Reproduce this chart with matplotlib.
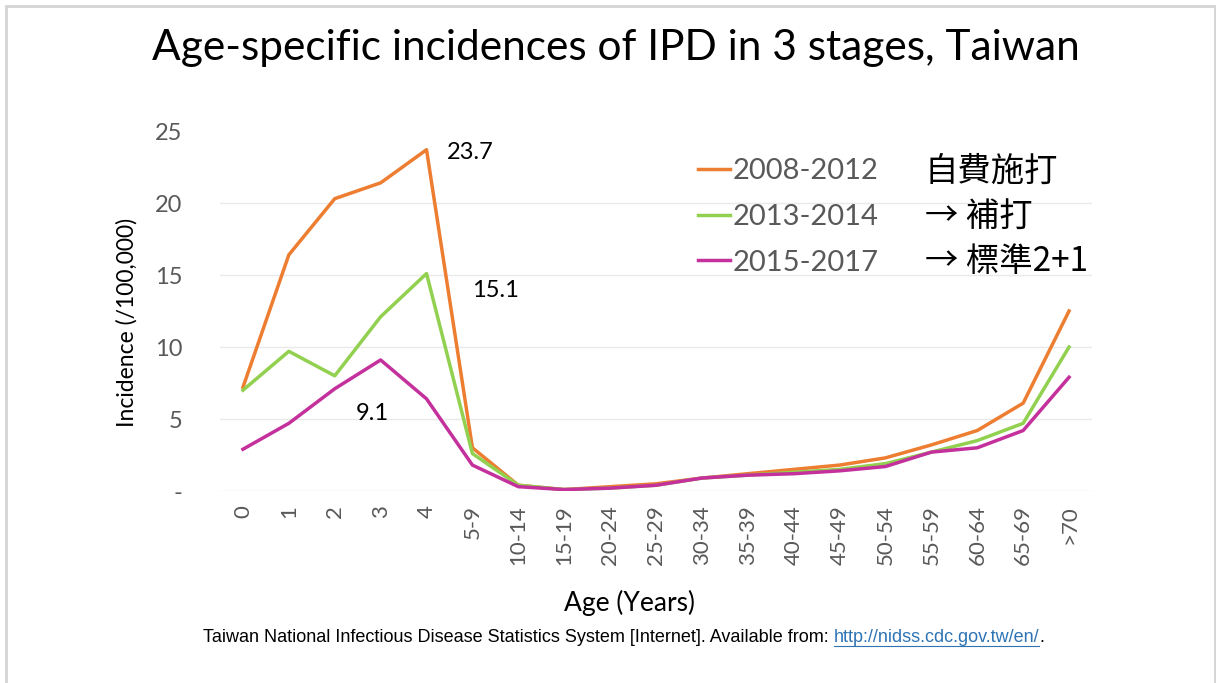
import matplotlib
matplotlib.use("Agg")
from matplotlib import pyplot as plt
from matplotlib.patches import Rectangle
import numpy as np

age_groups = ["0", "1", "2", "3", "4", "5-9", "10-14", "15-19", "20-24", "25-29",
              "30-34", "35-39", "40-44", "45-49", "50-54", "55-59", "60-64",
              "65-69", ">70"]

inc_2008_2012 = [7.2, 16.4, 20.3, 21.4, 23.7, 3.0, 0.4, 0.1, 0.3, 0.5,
                 0.9, 1.2, 1.5, 1.8, 2.3, 3.2, 4.2, 6.1, 12.5]
inc_2013_2014 = [7.0, 9.7, 8.0, 12.1, 15.1, 2.6, 0.4, 0.1, 0.2, 0.4,
                 0.9, 1.1, 1.3, 1.5, 1.9, 2.7, 3.5, 4.7, 10.0]
inc_2015_2017 = [2.9, 4.7, 7.1, 9.1, 6.4, 1.8, 0.3, 0.1, 0.2, 0.4,
                 0.9, 1.1, 1.2, 1.4, 1.7, 2.7, 3.0, 4.2, 7.9]

series_names = ["2008-2012", "2013-2014", "2015-2017"]
series_notes = ["自費施打", "→ 補打", "→ 標準2+1"]
series_colors = ["#ED7D31", "#92D050", "#C4309C"]

# peak labels: (x position, y position, text)
peak_labels = [(4.45, 23.5, "23.7"), (5.0, 13.9, "15.1"), (2.45, 5.4, "9.1")]

plt.rcParams["font.family"] = ["Lato", "DejaVu Sans"]
cjk = ["Noto Sans CJK TC", "DejaVu Sans"]
gray = "#595959"

fig = plt.figure(figsize=(12.16, 6.83), dpi=100)
W, H = 1216, 683

def px(x0, y0, x1, y1):
    return [x0 / W, 1 - y1 / H, (x1 - x0) / W, (y1 - y0) / H]

ax = fig.add_axes(px(220, 131, 1092, 491))

x = np.arange(len(age_groups))
for vals, name, col in zip([inc_2008_2012, inc_2013_2014, inc_2015_2017],
                           series_names, series_colors):
    ax.plot(x, vals, color=col, linewidth=2.5, label=name, solid_joinstyle="round")

ax.set_xlim(-0.5, len(age_groups) - 0.5)
ax.set_ylim(0, 25)
ax.set_yticks([0, 5, 10, 15, 20, 25])
ax.set_yticklabels(["-", "5", "10", "15", "20", "25"])
ax.set_xticks(x)
ax.set_xticklabels(age_groups, rotation=90)
ax.tick_params(axis="both", length=0, colors=gray)
ax.tick_params(axis="y", pad=27, labelsize=17)
ax.tick_params(axis="x", pad=10, labelsize=16)
for s in ax.spines.values():
    s.set_visible(False)
ax.grid(axis="y", color="#E9E9E9", linewidth=1)
ax.yaxis.get_gridlines()[-1].set_visible(False)
ax.set_axisbelow(True)

for xi, yi, t in peak_labels:
    ax.text(xi, yi, t, fontsize=17, color="black", ha="left", va="center")

ax.set_ylabel("Incidence (/100,000)", fontsize=16.5, color="black", va="center")
ax.yaxis.set_label_coords(-0.107, 0.467)
ax.set_xlabel("Age (Years)", fontsize=19, color="black", va="center")
ax.xaxis.set_label_coords(0.47, -0.31)

leg = ax.legend(loc="upper left", bbox_to_anchor=((698 - 220) / 872, (491 - 158) / 360),
                frameon=False, fontsize=21, handlelength=1.1, handletextpad=0.1,
                labelspacing=0.68, borderaxespad=0, borderpad=0)
for t in leg.get_texts():
    t.set_color(gray)
for i, note in enumerate(series_notes):
    fig.text(925 / W, 1 - (171 + 45 * i) / H, note, fontsize=24, family=cjk,
             color="black", ha="left", va="center")

fig.text(616 / W, 1 - 48 / H, "Age-specific incidences of IPD in 3 stages, Taiwan",
         fontsize=30.5, ha="center", va="center", color="black")

# footer with link
foot_size = 13
foot = fig.text(203 / W, 1 - 638 / H,
                "Taiwan National Infectious Disease Statistics System [Internet]. Available from: ",
                fontsize=foot_size, family=["Liberation Sans"], ha="left", va="center",
                color="black")
fig.canvas.draw()
bb = foot.get_window_extent()
link = fig.text(bb.x1 / W, 1 - 638 / H, "http://nidss.cdc.gov.tw/en/",
                fontsize=foot_size, family=["Liberation Sans"], ha="left", va="center",
                color="#2E74B5")
fig.canvas.draw()
lb = link.get_window_extent()
fig.add_artist(plt.Line2D([lb.x0 / W, lb.x1 / W], [(lb.y0 + 1) / H, (lb.y0 + 1) / H],
                          color="#2E74B5", linewidth=0.8))
fig.text(lb.x1 / W, 1 - 638 / H, ".", fontsize=foot_size, family=["Liberation Sans"],
         ha="left", va="center", color="black")

fig.add_artist(Rectangle((6 / W, -0.02), 1209 / W, 1.02 - 6 / H, transform=fig.transFigure,
                         fill=False, edgecolor="#D4D4D4", linewidth=2))

fig.savefig("out.png", dpi=100)
